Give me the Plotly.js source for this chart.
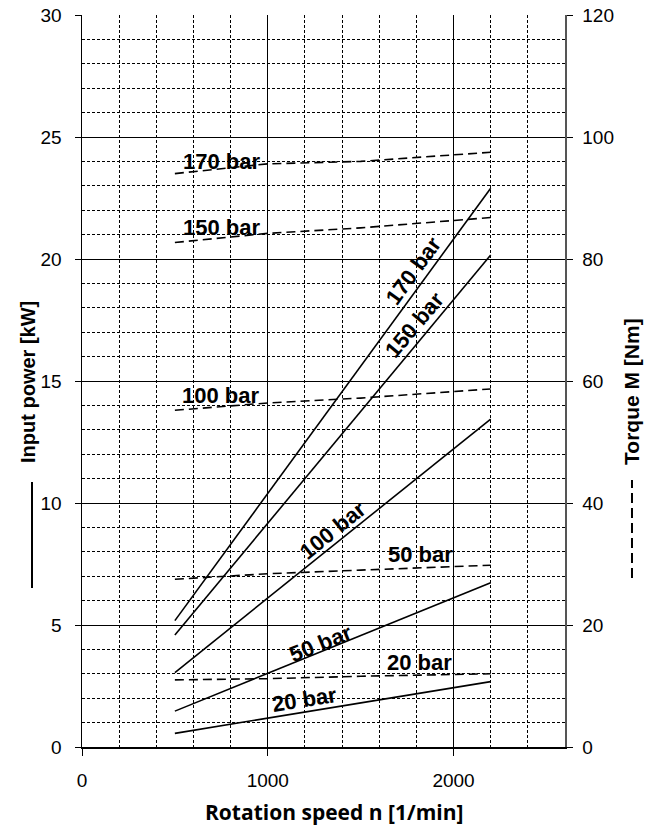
<!DOCTYPE html>
<html>
<head>
<meta charset="utf-8">
<script src="https://cdn.plot.ly/plotly-3.0.1.min.js"></script>
<style>
html,body{margin:0;padding:0;background:#fff;}
#chart{width:656px;height:826px;}
</style>
</head>
<body>
<div id="chart"></div>
<script>
// ---- data ----
// Input power (solid lines, left axis, kW)
var powerSpeed = [500, 2200];
var power170 = [5.18, 22.9];
var power150 = [4.59, 20.16];
var power100 = [3.05, 13.44];
var power50  = [1.47, 6.73];
var power20  = [0.56, 2.68];

// Torque (dashed lines, right axis, Nm)
var torqueSpeed = [500, 1000, 1500, 2200];
var torque170 = [94.0, 95.6, 96.0, 97.5];
var torque150 = [82.7, 84.2, 85.1, 86.8];
var torque100 = [55.2, 56.4, 57.2, 58.7];
var torque50  = [27.5, 28.4, 29.0, 29.8];
var torque20  = [11.0, 11.2, 11.6, 12.0];

var pressureLabels = ['170 bar', '150 bar', '100 bar', '50 bar', '20 bar'];

var xTickVals = [0, 1000, 2000];
var yTickVals = [0, 5, 10, 15, 20, 25, 30];
var y2TickVals = [0, 20, 40, 60, 80, 100, 120];

// ---- styling / placement ----
var FONT = 'Liberation Sans, Arial, sans-serif';
var solidLine = {color: '#000', width: 1.6};
var dashLine = {color: '#000', width: 1.6, dash: '9px,5px'};

var powerSeries = [power170, power150, power100, power50, power20];
var torqueSeries = [torque170, torque150, torque100, torque50, torque20];

var traces = [];
powerSeries.forEach(function (vals, i) {
  traces.push({x: powerSpeed, y: vals, type: 'scatter', mode: 'lines',
    name: 'P ' + pressureLabels[i], line: solidLine, xaxis: 'x', yaxis: 'y', showlegend: false});
});
torqueSeries.forEach(function (vals, i) {
  traces.push({x: torqueSpeed, y: vals, type: 'scatter', mode: 'lines',
    name: 'M ' + pressureLabels[i], line: dashLine, xaxis: 'x', yaxis: 'y2', showlegend: false});
});

// label placement (x in 1/min, y in axis units)
var solidLabelPos = [
  {x: 1786, y: 19.51, a: -54},
  {x: 1792, y: 17.30, a: -50},
  {x: 1349, y: 8.89, a: -39},
  {x: 1284, y: 4.26, a: -22},
  {x: 1198, y: 1.93, a: -9}
];
var dashLabelPos = [
  {x: 750, y: 96.0},
  {x: 750, y: 85.2},
  {x: 745, y: 57.6},
  {x: 1824, y: 31.5},
  {x: 1819, y: 13.8}
];

var annotations = [];
pressureLabels.forEach(function (t, i) {
  var s = solidLabelPos[i];
  annotations.push({text: '<b>' + t + '</b>', x: s.x, y: s.y, xref: 'x', yref: 'y',
    xanchor: 'center', yanchor: 'middle',
    textangle: s.a, showarrow: false, font: {family: FONT, size: 22, color: '#000'}});
  var d = dashLabelPos[i];
  annotations.push({text: '<b>' + t + '</b>', x: d.x, y: d.y, xref: 'x', yref: 'y2',
    xanchor: 'center', yanchor: 'middle',
    showarrow: false, font: {family: FONT, size: 22, color: '#000'}});
});
// axis titles as annotations
annotations.push({text: '<b>Input power [kW]</b>', xref: 'paper', yref: 'paper',
  x: -0.1118, y: 0.4987, xanchor: 'center', yanchor: 'middle', textangle: -90, showarrow: false,
  font: {family: FONT, size: 20, color: '#000'}});
annotations.push({text: '<b>Torque M [Nm]</b>', xref: 'paper', yref: 'paper',
  x: 1.1387, y: 0.4864, xanchor: 'center', yanchor: 'middle', textangle: -90, showarrow: false,
  font: {family: FONT, size: 21, color: '#000'}});
annotations.push({text: '<b>Rotation speed n [1/min]</b>', xref: 'paper', yref: 'paper',
  x: 0.522, y: -0.0887, xanchor: 'center', yanchor: 'middle', showarrow: false,
  font: {family: 'Open Sans, sans-serif', size: 21, color: '#000'}});

var shapes = [
  // legend key: solid line for power
  {type: 'line', xref: 'paper', yref: 'paper', x0: -0.1035, x1: -0.1035, y0: 0.2172, y1: 0.362,
    line: {color: '#000', width: 2}},
  // legend key: dashed line for torque
  {type: 'line', xref: 'paper', yref: 'paper', x0: 1.1387, x1: 1.1387, y0: 0.2309, y1: 0.3648,
    line: {color: '#000', width: 2, dash: '10px,5px'}}
];

var gridDot = '3px,2px';
var layout = {
  width: 656, height: 826,
  margin: {l: 82, r: 91, t: 15, b: 79, pad: 0},
  paper_bgcolor: '#fff', plot_bgcolor: '#fff',
  showlegend: false,
  hovermode: false,
  font: {family: FONT, size: 19, color: '#000'},
  xaxis: {
    range: [0, 2600], tickvals: xTickVals, ticktext: xTickVals.map(String),
    showgrid: true, gridcolor: '#000', gridwidth: 1,
    minor: {dtick: 200, tick0: 0, showgrid: true, gridcolor: '#000', griddash: gridDot, gridwidth: 1},
    ticks: 'outside', ticklen: 7, tickcolor: '#000', tickwidth: 1,
    showline: true, linecolor: '#000', linewidth: 1.5, zeroline: false,
    ticklabelstandoff: 9,
    tickfont: {family: FONT, size: 19, color: '#000'}
  },
  yaxis: {
    range: [0, 30], tickvals: yTickVals, ticktext: yTickVals.map(String),
    showgrid: true, gridcolor: '#000', gridwidth: 1,
    minor: {dtick: 1, tick0: 0, showgrid: true, gridcolor: '#000', griddash: gridDot, gridwidth: 1},
    ticks: 'outside', ticklen: 6, tickcolor: '#000', tickwidth: 1,
    showline: true, linecolor: '#000', linewidth: 1.5, zeroline: false,
    ticklabelstandoff: 9,
    tickfont: {family: FONT, size: 19, color: '#000'}
  },
  yaxis2: {
    range: [0, 120], tickvals: y2TickVals, ticktext: y2TickVals.map(String),
    overlaying: 'y', side: 'right', showgrid: false,
    ticks: 'outside', ticklen: 6, tickcolor: '#000', tickwidth: 1,
    showline: true, linecolor: '#555', linewidth: 1.5, zeroline: false,
    ticklabelstandoff: 6,
    tickfont: {family: FONT, size: 19, color: '#000'}
  },
  annotations: annotations,
  shapes: shapes
};

Plotly.newPlot('chart', traces, layout, {staticPlot: true, displayModeBar: false});
</script>
</body>
</html>
